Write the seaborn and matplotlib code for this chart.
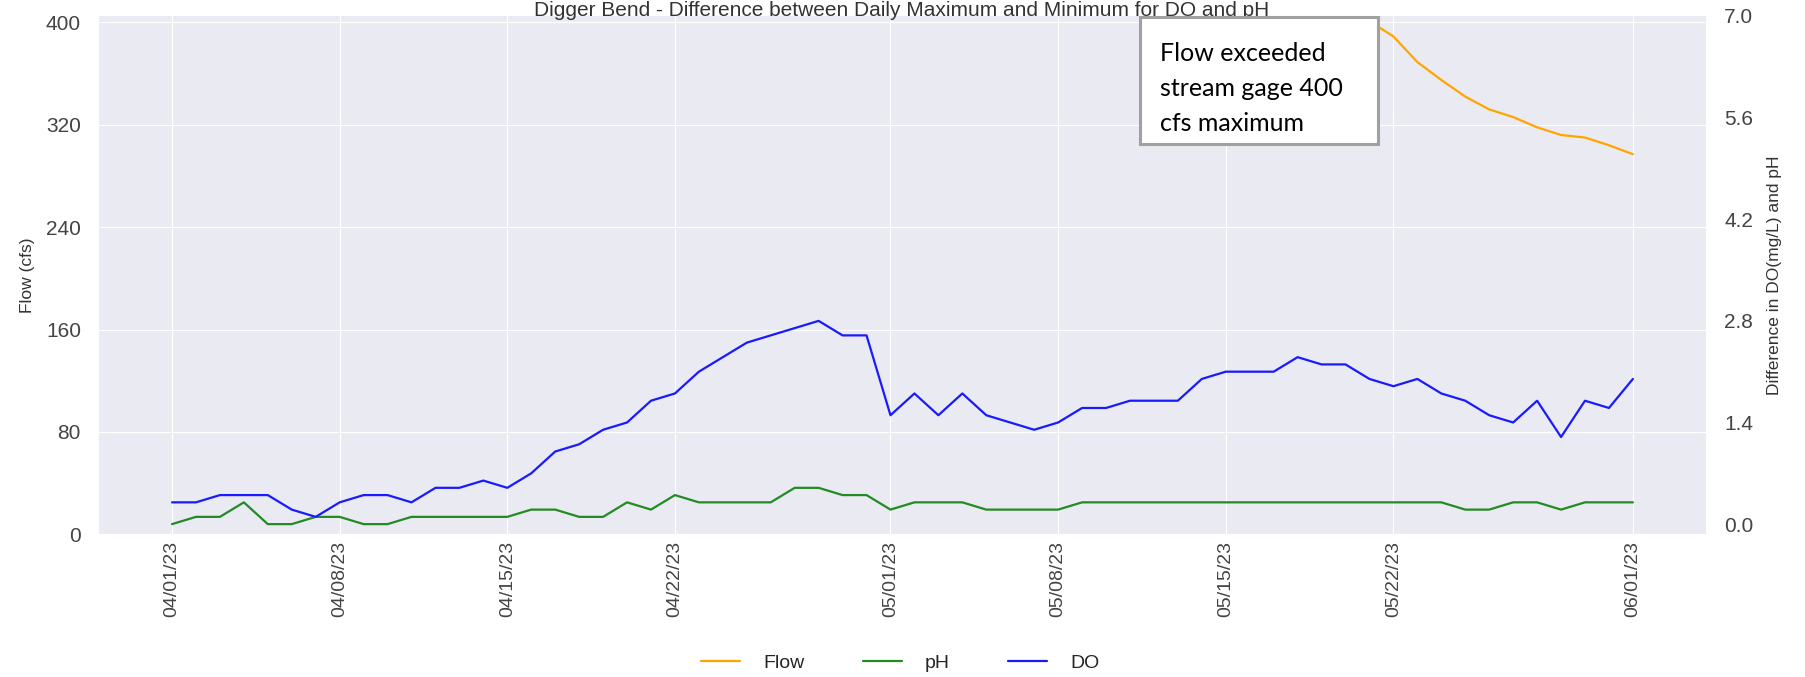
import numpy as np
import pandas as pd
import matplotlib
matplotlib.use("Agg")
import matplotlib.pyplot as plt
import matplotlib.dates as mdates
from matplotlib.patches import Rectangle
from matplotlib.lines import Line2D
import seaborn as sns

# ---------------- data ----------------
dates = pd.date_range("2023-04-01", "2023-06-01", freq="D")

do_diff = [0.3, 0.3, 0.4, 0.4, 0.4, 0.2, 0.1, 0.3, 0.4, 0.4,
           0.3, 0.5, 0.5, 0.6, 0.5, 0.7, 1.0, 1.1, 1.3, 1.4,
           1.7, 1.8, 2.1, 2.3, 2.5, 2.6, 2.7, 2.8, 2.6, 2.6,
           1.5, 1.8, 1.5, 1.8, 1.5, 1.4, 1.3, 1.4, 1.6, 1.6,
           1.7, 1.7, 1.7, 2.0, 2.1, 2.1, 2.1, 2.3, 2.2, 2.2,
           2.0, 1.9, 2.0, 1.8, 1.7, 1.5, 1.4, 1.7, 1.2, 1.7,
           1.6, 2.0]

ph_diff = [0.0, 0.1, 0.1, 0.3, 0.0, 0.0, 0.1, 0.1, 0.0, 0.0,
           0.1, 0.1, 0.1, 0.1, 0.1, 0.2, 0.2, 0.1, 0.1, 0.3,
           0.2, 0.4, 0.3, 0.3, 0.3, 0.3, 0.5, 0.5, 0.4, 0.4,
           0.2, 0.3, 0.3, 0.3, 0.2, 0.2, 0.2, 0.2, 0.3, 0.3,
           0.3, 0.3, 0.3, 0.3, 0.3, 0.3, 0.3, 0.3, 0.3, 0.3,
           0.3, 0.3, 0.3, 0.3, 0.2, 0.2, 0.3, 0.3, 0.2, 0.3,
           0.3, 0.3]

# flow above the 400 cfs gage maximum was not recorded (NaN)
flow = [np.nan] * 50 + [401, 389, 369, 355, 342, 332, 326, 318, 312, 310, 304, 297]

left_ticks = [0, 80, 160, 240, 320, 400]
right_ticks = [0.0, 1.4, 2.8, 4.2, 5.6, 7.0]

title = "Digger Bend - Difference between Daily Maximum and Minimum for DO and pH"
note = "Flow exceeded\nstream gage 400\ncfs maximum"

df = pd.DataFrame({"date": dates, "Flow": flow, "pH": ph_diff, "DO": do_diff})

# ---------------- style ----------------
sns.set_style("darkgrid")
plt.rcParams["font.family"] = ["Liberation Sans", "DejaVu Sans"]

c_flow = "#FFA500"
c_ph = "#228B22"
c_do = "#1A1AFF"

fig = plt.figure(figsize=(18.06, 6.77), dpi=100)
ax = fig.add_axes([0.0548, 0.2108, 0.8898, 0.7656])
ax2 = ax.twinx()

sns.lineplot(data=df, x="date", y="Flow", ax=ax, color=c_flow, lw=1.6, legend=False)
sns.lineplot(data=df, x="date", y="pH", ax=ax2, color=c_ph, lw=1.6, legend=False)
sns.lineplot(data=df, x="date", y="DO", ax=ax2, color=c_do, lw=1.6, legend=False)

ax.set_ylim(0, 405)
ax.set_yticks(left_ticks)
ax2.set_ylim(-0.14, 7.0)
ax2.set_yticks(right_ticks)
ax2.yaxis.set_major_formatter(matplotlib.ticker.FormatStrFormatter("%.1f"))
ax2.grid(False)

ax.xaxis.set_major_locator(mdates.DayLocator(bymonthday=[1, 8, 15, 22]))
ax.xaxis.set_major_formatter(mdates.DateFormatter("%m/%d/%y"))
for lab in ax.get_xticklabels():
    lab.set_rotation(90)

tick_col = "#444444"
ax.tick_params(axis="x", labelsize=14, pad=5, length=0, colors=tick_col)
ax.tick_params(axis="y", labelsize=15, pad=13, length=0, colors=tick_col)
ax2.tick_params(axis="y", labelsize=15, pad=13, length=0, colors=tick_col)

ax.set_xlabel("")
ax.set_ylabel("Flow (cfs)", fontsize=12.5, color="#333333", labelpad=8)
ax2.set_ylabel("Difference in DO(mg/L) and pH", fontsize=12.5, color="#333333", labelpad=10)
for a in (ax, ax2):
    for s in a.spines.values():
        s.set_visible(False)

fig.text(0.4995, 0.999, title, ha="center", va="top", fontsize=15, color="#333333")

handles = [Line2D([], [], color=c_flow, lw=1.6),
           Line2D([], [], color=c_ph, lw=1.6),
           Line2D([], [], color=c_do, lw=1.6)]
fig.legend(handles, ["Flow", "pH", "DO"], loc="center", bbox_to_anchor=(0.4985, 0.020),
           ncol=3, frameon=False, fontsize=14, handlelength=2.0, handletextpad=1.2,
           columnspacing=3.0)

# annotation box
fig.patches.append(Rectangle((1140 / 1806, 1 - 144 / 677), 238 / 1806, 127 / 677,
                             transform=fig.transFigure, facecolor="white",
                             edgecolor="#A0A0A0", lw=2.2, zorder=5))
fig.text(1160 / 1806, 1 - 42 / 677, note, ha="left", va="top", fontsize=18,
         family=["Lato", "DejaVu Sans"], color="black", linespacing=1.62, zorder=6)

fig.savefig("out.png", dpi=100)
